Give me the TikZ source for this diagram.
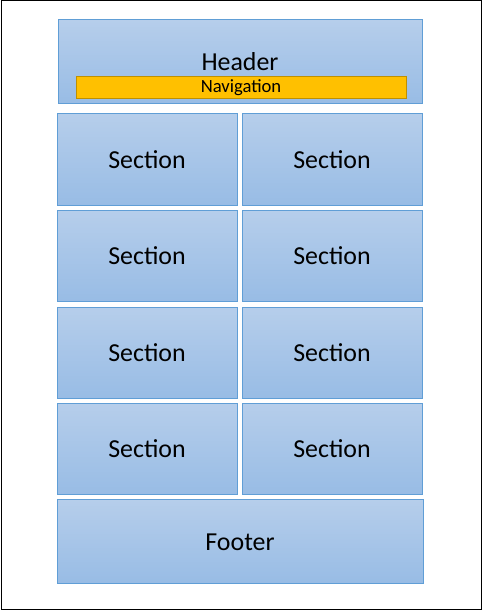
\documentclass[tikz,border=0pt]{standalone}
\usepackage{fontspec}
\setmainfont{Carlito}
\definecolor{boxtop}{RGB}{182,206,235}
\definecolor{boxbot}{RGB}{152,188,229}
\definecolor{boxline}{RGB}{96,158,214}
\definecolor{navfill}{RGB}{255,192,0}
\definecolor{navline}{RGB}{191,144,0}
\begin{document}
\begin{tikzpicture}[x=1bp,y=-1bp,
  blk/.style={draw=boxline,line width=1bp,top color=boxtop,bottom color=boxbot},
  lbl/.style={font=\fontsize{26}{30}\selectfont,inner sep=0pt},
  navbox/.style={draw=navline,line width=1bp,fill=navfill}]
\useasboundingbox (0,0) rectangle (484,610);
\draw[line width=1bp] (1,1) rectangle (481,609);
% header
\draw[blk] (58,20) rectangle (422,104);
\node[lbl] (header) at (240,62) {Header};
\draw[navbox] (76,77) rectangle (406,99);
\node[font=\fontsize{18.7}{22}\selectfont,inner sep=0pt] (nav) at (241,88) {Navigation};
% sections
\foreach \t/\b [count=\r] in {114/205,210/301,307/398,403/494}{
  \draw[blk] (57,\t) rectangle (237,\b);
  \draw[blk] (242,\t) rectangle (422,\b);
  \node[lbl] (sL\r) at (147,{(\t+\b)/2}) {Section};
  \node[lbl] (sR\r) at (332,{(\t+\b)/2}) {Section};
}
% footer
\draw[blk] (57,499) rectangle (423,583);
\node[lbl] (footer) at (240,542) {Footer};
\end{tikzpicture}
\end{document}
